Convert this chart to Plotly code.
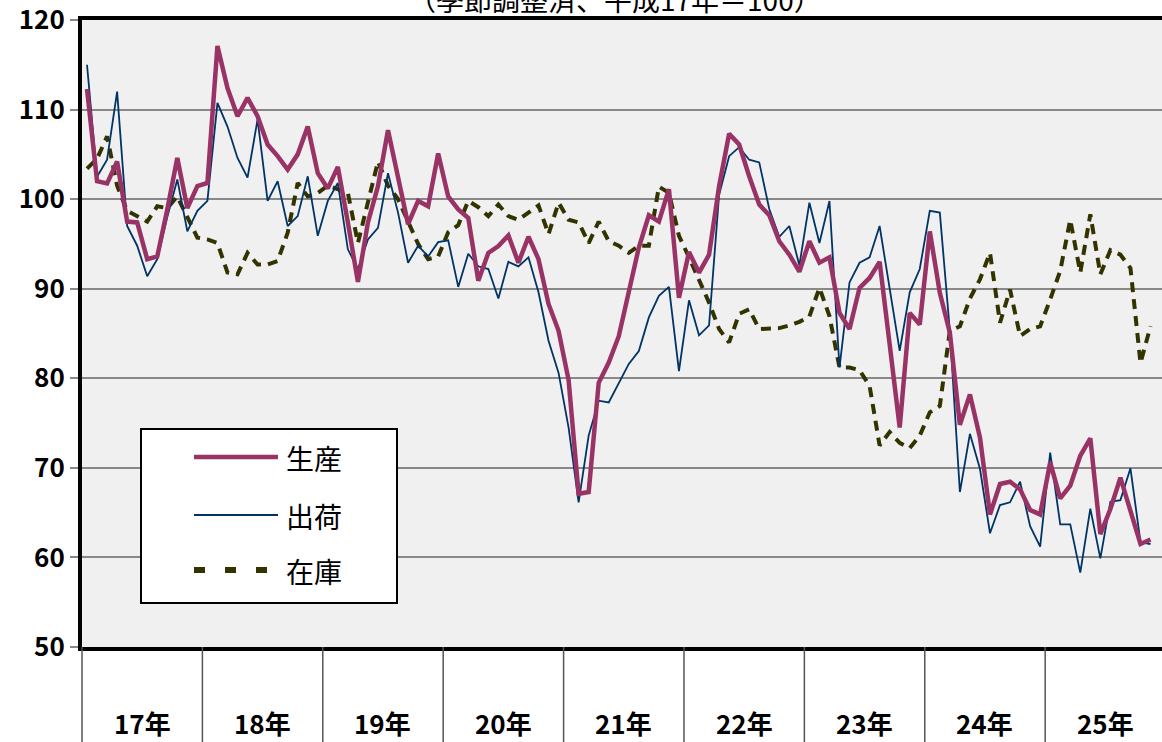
import plotly.graph_objects as go

years = ["17年", "18年", "19年", "20年", "21年", "22年", "23年", "24年", "25年"]
series_names = ["生産", "出荷", "在庫"]
title_text = "（季節調整済、平成17年＝100）"
y_ticks = [50, 60, 70, 80, 90, 100, 110, 120]

production = [
    112.3, 102.0, 101.75, 104.2, 97.5, 97.4, 93.3, 93.6, 98.85, 104.6, 99.0, 101.45,
    101.8, 117.1, 112.4, 109.25, 111.3, 109.25, 106.1, 104.8, 103.3, 105.0, 108.1, 102.9,
    101.2, 103.6, 97.4, 90.75, 97.4, 101.45, 107.7, 102.6, 97.2, 99.8, 99.2, 105.1,
    100.3, 98.85, 97.9, 90.9, 94.0, 94.76, 95.95, 92.9, 95.8, 93.3, 88.3, 85.3,
    79.8, 67.1, 67.3, 79.5, 81.75, 84.7, 89.6, 94.6, 98.2, 97.5, 101.1, 89.0,
    94.1, 91.8, 93.8, 101.45, 107.3, 106.1, 102.55, 99.4, 98.2, 95.3, 93.8, 91.9,
    95.3, 92.9, 93.5, 87.3, 85.5, 90.1, 91.2, 93.0, 83.8, 74.5, 87.3, 86.0,
    96.4, 89.55, 85.1, 74.8, 78.2, 73.4, 64.8, 68.2, 68.45, 67.6, 65.3, 64.8,
    70.6, 66.6, 68.0, 71.35, 73.3, 62.6, 65.4, 68.9, 65.2, 61.5, 62.0,
]
shipments = [
    115.0, 102.5, 104.4, 112.0, 97.0, 94.8, 91.4, 93.3, 98.0, 102.2, 96.4, 98.7,
    99.8, 110.75, 108.1, 104.6, 102.4, 108.9, 99.8, 102.0, 97.0, 98.1, 102.55, 95.9,
    99.8, 101.8, 94.4, 92.2, 95.5, 96.8, 102.9, 98.5, 92.9, 94.8, 93.6, 95.2,
    95.4, 90.2, 93.9, 92.5, 92.2, 88.9, 93.0, 92.5, 93.5, 89.6, 84.2, 80.6,
    74.5, 66.15, 73.6, 77.5, 77.3, 79.5, 81.6, 83.05, 86.8, 89.2, 90.2, 80.8,
    88.7, 84.8, 85.9, 100.5, 104.8, 105.8, 104.4, 104.1, 98.9, 95.8, 97.0, 92.6,
    99.6, 95.1, 99.8, 81.2, 90.7, 92.9, 93.5, 97.0, 90.1, 83.05, 89.6, 92.2,
    98.7, 98.5, 85.3, 67.3, 73.8, 69.9, 62.7, 65.85, 66.15, 68.45, 63.5, 61.2,
    71.7, 63.7, 63.7, 58.3, 65.45, 59.9, 66.2, 66.4, 69.95, 61.7, 61.5,
]
inventory = [
    103.4, 104.5, 107.0, 101.5, 98.7, 98.1, 97.5, 99.2, 99.0, 100.3, 98.1, 95.7,
    95.5, 95.1, 91.8, 91.6, 94.0, 92.7, 92.7, 93.1, 96.25, 101.8, 100.3, 100.7,
    101.5, 101.1, 100.7, 95.1, 99.6, 104.2, 101.5, 100.0, 97.5, 95.0, 93.3, 93.6,
    96.3, 97.1, 99.8, 99.1, 98.1, 99.4, 98.1, 97.7, 98.5, 99.3, 96.1, 99.6,
    97.7, 97.4, 95.1, 97.5, 95.3, 94.8, 94.0, 94.8, 94.8, 101.4, 100.7, 95.9,
    93.5, 91.0, 88.45, 85.5, 84.0, 87.2, 87.7, 85.5, 85.6, 85.6, 85.9, 86.3,
    86.9, 90.1, 86.95, 81.2, 81.2, 80.9, 79.15, 72.5, 74.0, 72.8, 72.2, 73.6,
    76.2, 76.9, 85.3, 85.8, 88.9, 91.05, 94.0, 86.2, 89.9, 84.7, 85.5, 85.8,
    88.8, 92.0, 97.7, 91.8, 98.3, 91.6, 94.3, 93.8, 92.3, 81.7, 85.8,
]

months = list(range(len(production)))

C_PROD = "#993366"
C_SHIP = "#003366"
C_INV = "#333300"

# geometry (pixels)
W, H = 1162, 742
ML, MT, MB = 82, 20, 95
PW = W - ML
PH = H - MT - MB
MONTH_PX = 10.033
XMIN = -0.5
XMAX = XMIN + PW / MONTH_PX


def px_x(p):
    return (p - ML) / PW


def px_y(p):
    return (H - MB - p) / PH


fig = go.Figure()
fig.add_trace(go.Scatter(x=months, y=inventory, mode="lines", name=series_names[2],
                         line=dict(color=C_INV, width=4, dash="10px,7px"), showlegend=False))
fig.add_trace(go.Scatter(x=months, y=shipments, mode="lines", name=series_names[1],
                         line=dict(color=C_SHIP, width=1.8), showlegend=False))
fig.add_trace(go.Scatter(x=months, y=production, mode="lines", name=series_names[0],
                         line=dict(color=C_PROD, width=4.5), showlegend=False))

shapes = []
annotations = []

# year separators and labels below the plot
for k, yl in enumerate(years):
    xb = -0.5 + 12 * k
    xp = (xb - XMIN) / (XMAX - XMIN)
    shapes.append(dict(type="line", xref="paper", yref="paper", x0=xp, x1=xp,
                       y0=0, y1=-MB / PH, line=dict(color="#555555", width=1.5), layer="above"))
    annotations.append(dict(x=5.5 + 12 * k, xref="x", y=px_y(722), yref="paper",
                            text=yl, showarrow=False, xanchor="center", yanchor="middle",
                            font=dict(size=26, color="black", weight="bold")))

# legend box
shapes.append(dict(type="rect", xref="paper", yref="paper", x0=px_x(141), x1=px_x(397),
                   y0=px_y(603), y1=px_y(429), fillcolor="white",
                   line=dict(color="black", width=2), layer="above"))
legend_rows = [(457, C_PROD, 4.5, "solid"), (515, C_SHIP, 1.8, "solid"), (570, C_INV, 6, "11px,20px")]
for name, (ry, col, lw, ds) in zip(series_names, legend_rows):
    shapes.append(dict(type="line", xref="paper", yref="paper", x0=px_x(194), x1=px_x(278),
                       y0=px_y(ry), y1=px_y(ry), line=dict(color=col, width=lw, dash=ds),
                       layer="above"))
    annotations.append(dict(x=px_x(284), xref="paper", y=px_y(ry + 1), yref="paper",
                            text=name, showarrow=False, xanchor="left", yanchor="middle",
                            font=dict(size=28, color="black")))

# title (partly cropped at top, as in the source image)
annotations.append(dict(x=px_x(615), xref="paper", y=1, yref="paper", yshift=21,
                        text=title_text, showarrow=False, xanchor="center", yanchor="middle",
                        font=dict(size=28, color="black")))

fig.update_layout(
    width=W, height=H,
    margin=dict(l=ML, r=0, t=MT, b=MB, pad=0),
    paper_bgcolor="white",
    plot_bgcolor="#F0F0F0",
    font=dict(family="Noto Sans CJK JP, sans-serif", color="black"),
    shapes=shapes,
    annotations=annotations,
    showlegend=False,
)
fig.update_xaxes(range=[XMIN, XMAX], showticklabels=False, ticks="", showgrid=False,
                 zeroline=False, showline=True, mirror=True, linecolor="black", linewidth=4)
fig.update_yaxes(range=[50, 120], tickmode="array", tickvals=y_ticks,
                 ticktext=[str(v) for v in y_ticks], showgrid=True, gridcolor="#888888",
                 gridwidth=2, zeroline=False, showline=True, linecolor="black", linewidth=4,
                 ticks="outside", ticklen=8, tickcolor="#888888", tickwidth=1.5,
                 ticklabeloverflow="allow",
                 tickfont=dict(size=26, color="black", weight="bold"))

fig.write_html("out.html", config={"displayModeBar": False},
               post_script="document.body.style.margin='0';document.body.style.overflow='hidden';")
